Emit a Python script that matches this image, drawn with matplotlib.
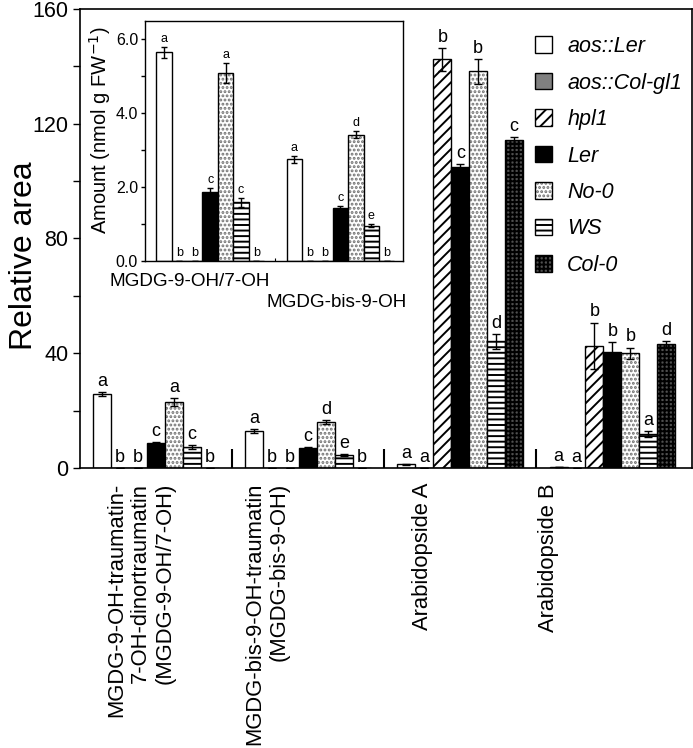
import matplotlib
matplotlib.use("Agg")
import matplotlib.pyplot as plt
from matplotlib.patches import Patch
import numpy as np

plt.rcParams['font.family'] = ['Liberation Sans', 'DejaVu Sans']
plt.rcParams['hatch.linewidth'] = 1.4

genotypes = ["aos::Ler", "aos::Col-gl1", "hpl1", "Ler", "No-0", "WS", "Col-0"]
compounds = ["MGDG-9-OH-traumatin-\n7-OH-dinortraumatin\n(MGDG-9-OH/7-OH)",
             "MGDG-bis-9-OH-traumatin\n(MGDG-bis-9-OH)",
             "Arabidopside A", "Arabidopside B"]
inset_compounds = ["MGDG-9-OH/7-OH", "MGDG-bis-9-OH"]

# relative area per genotype (one value per compound)
area_aos_ler = [25.8, 13.0, 1.3, 0.3]
area_aos_col = [0.0, 0.0, 0.0, 0.0]
area_hpl1 = [0.0, 0.0, 142.4, 42.6]
area_ler = [8.8, 7.1, 105.0, 40.3]
area_no0 = [23.0, 16.1, 138.3, 40.0]
area_ws = [7.3, 4.5, 44.1, 11.8]
area_col0 = [0.0, 0.0, 114.3, 43.1]

err_aos_ler = [0.7, 0.7, 0.2, 0.0]
err_aos_col = [0.0, 0.0, 0.0, 0.0]
err_hpl1 = [0.0, 0.0, 3.9, 8.1]
err_ler = [0.4, 0.3, 0.9, 3.7]
err_no0 = [1.3, 0.7, 4.4, 2.0]
err_ws = [0.8, 0.4, 2.6, 1.0]
err_col0 = [0.0, 0.0, 1.2, 1.0]

letters_aos_ler = ["a", "a", "a", "a"]
letters_aos_col = ["b", "b", "a", "a"]
letters_hpl1 = ["b", "b", "b", "b"]
letters_ler = ["c", "c", "c", "b"]
letters_no0 = ["a", "d", "b", "b"]
letters_ws = ["c", "e", "d", "a"]
letters_col0 = ["b", "b", "c", "d"]

# inset: amount (nmol g FW-1) for the two MGDG compounds
amt_aos_ler = [5.65, 2.75]
amt_aos_col = [0.0, 0.0]
amt_hpl1 = [0.0, 0.0]
amt_ler = [1.88, 1.43]
amt_no0 = [5.09, 3.42]
amt_ws = [1.59, 0.96]
amt_col0 = [0.0, 0.0]

amt_err_aos_ler = [0.15, 0.1]
amt_err_aos_col = [0.0, 0.0]
amt_err_hpl1 = [0.0, 0.0]
amt_err_ler = [0.1, 0.06]
amt_err_no0 = [0.27, 0.1]
amt_err_ws = [0.12, 0.05]
amt_err_col0 = [0.0, 0.0]

inset_letters_aos_ler = ["a", "a"]
inset_letters_aos_col = ["b", "b"]
inset_letters_hpl1 = ["b", "b"]
inset_letters_ler = ["c", "c"]
inset_letters_no0 = ["a", "d"]
inset_letters_ws = ["c", "e"]
inset_letters_col0 = ["b", "b"]

areas = [area_aos_ler, area_aos_col, area_hpl1, area_ler, area_no0, area_ws, area_col0]
errs = [err_aos_ler, err_aos_col, err_hpl1, err_ler, err_no0, err_ws, err_col0]
letters = [letters_aos_ler, letters_aos_col, letters_hpl1, letters_ler,
           letters_no0, letters_ws, letters_col0]
amts = [amt_aos_ler, amt_aos_col, amt_hpl1, amt_ler, amt_no0, amt_ws, amt_col0]
amt_errs = [amt_err_aos_ler, amt_err_aos_col, amt_err_hpl1, amt_err_ler,
            amt_err_no0, amt_err_ws, amt_err_col0]
inset_letters = [inset_letters_aos_ler, inset_letters_aos_col, inset_letters_hpl1,
                 inset_letters_ler, inset_letters_no0, inset_letters_ws, inset_letters_col0]

# hatchcolor: hatch drawn in its own colour, outline added on top in black
styles = [
    dict(facecolor="white", hatch=None, hatchcolor=None),
    dict(facecolor="#808080", hatch=None, hatchcolor=None),
    dict(facecolor="white", hatch="///", hatchcolor=None),
    dict(facecolor="black", hatch=None, hatchcolor=None),
    dict(facecolor="white", hatch="....", hatchcolor="#707070"),
    dict(facecolor="white", hatch="---", hatchcolor=None),
    dict(facecolor="#505050", hatch="++++", hatchcolor=None),
]

W = 0.118


def draw_bars(ax, values, errors, labels, fontsize, capsize):
    n = len(values[0])
    x = np.arange(n)
    ekw = dict(elinewidth=1.0, capthick=1.0, ecolor="black")
    for j, (vals, err, lab, st) in enumerate(zip(values, errors, labels, styles)):
        pos = x + (j - 3) * W
        if st["hatchcolor"]:
            ax.bar(pos, vals, W, color=st["facecolor"], hatch=st["hatch"],
                   edgecolor=st["hatchcolor"], linewidth=0)
            ax.bar(pos, vals, W, yerr=err, fill=False, edgecolor="black",
                   linewidth=1.0, capsize=capsize, error_kw=ekw)
        else:
            ax.bar(pos, vals, W, yerr=err, color=st["facecolor"], hatch=st["hatch"],
                   edgecolor="black", linewidth=1.0, capsize=capsize, error_kw=ekw)
        for p, v, e, l in zip(pos, vals, err, lab):
            ax.annotate(l, (p, v + e), xytext=(0, 1.5), textcoords="offset points",
                        ha="center", va="bottom", fontsize=fontsize)


def legend_handle(st):
    if st["hatchcolor"]:
        return (Patch(facecolor=st["facecolor"], hatch=st["hatch"],
                      edgecolor=st["hatchcolor"], linewidth=0),
                Patch(fill=False, edgecolor="black", linewidth=1.0))
    return Patch(facecolor=st["facecolor"], hatch=st["hatch"], edgecolor="black", linewidth=1.0)


fig = plt.figure(figsize=(6.93, 7.48), dpi=100)

ax = fig.add_axes([80 / 693, 1 - 468 / 748, 611.5 / 693, 459 / 748])
draw_bars(ax, areas, errs, letters, 13, 3)
ax.set_xlim(-0.5, 3.52)
ax.set_ylim(0, 160)
ax.set_yticks([0, 40, 80, 120, 160])
ax.set_yticks([20, 60, 100, 140], minor=True)
ax.tick_params(axis="y", which="both", direction="out", length=5, width=1, labelsize=15.5)
ax.set_xticks([0.5, 1.5, 2.5])
ax.set_xticklabels([])
ax.tick_params(axis="x", which="major", direction="in", length=14, width=1.5)
ax.set_ylabel("Relative area", fontsize=23)
ax.yaxis.set_label_coords(-0.067, 0.462)
for s in ax.spines.values():
    s.set_linewidth(1.2)

# compound names under the groups
label_x = [-0.10, 0.73, 1.75, 2.58]
for lx, name in zip(label_x, compounds):
    ax.text(lx, -15 / 459, name, transform=ax.get_xaxis_transform(),
            rotation=90, ha="center", va="top", multialignment="right", fontsize=15.8)

handles = [legend_handle(st) for st in styles]
fig.legend(handles, genotypes, loc="upper left", bbox_to_anchor=(535 / 693, 1 - 36 / 748),
           frameon=False, prop=dict(style="italic", size=15.5), handlelength=0.8,
           handleheight=0.8, handletextpad=0.7, labelspacing=0.72, borderpad=0,
           borderaxespad=0)

# inset
ins = fig.add_axes([145 / 693, 1 - 261 / 748, 258 / 693, 240 / 748])
draw_bars(ins, amts, amt_errs, inset_letters, 9, 2)
ins.set_xlim(-0.5, 1.48)
ins.set_ylim(0, 6.5)
ins.set_yticks([0, 2, 4, 6])
ins.set_yticklabels(["0.0", "2.0", "4.0", "6.0"])
ins.set_yticks([1, 3, 5], minor=True)
ins.tick_params(axis="y", which="both", direction="out", length=3, width=1, labelsize=11.5, pad=2)
ins.set_xticks([0.5])
ins.set_xticklabels([])
ins.tick_params(axis="x", direction="in", length=2)
ins.set_ylabel("Amount (nmol g FW$^{-1}$)", fontsize=14.5)
ins.yaxis.set_label_coords(-0.125, 0.546)
for s in ins.spines.values():
    s.set_linewidth(1.0)
ins.text(-0.16, -21 / 240, inset_compounds[0], transform=ins.get_xaxis_transform(),
         ha="center", va="center", fontsize=13.6)
ins.text(0.97, -42 / 240, inset_compounds[1], transform=ins.get_xaxis_transform(),
         ha="center", va="center", fontsize=13.6)

fig.savefig("out.png", dpi=100)
